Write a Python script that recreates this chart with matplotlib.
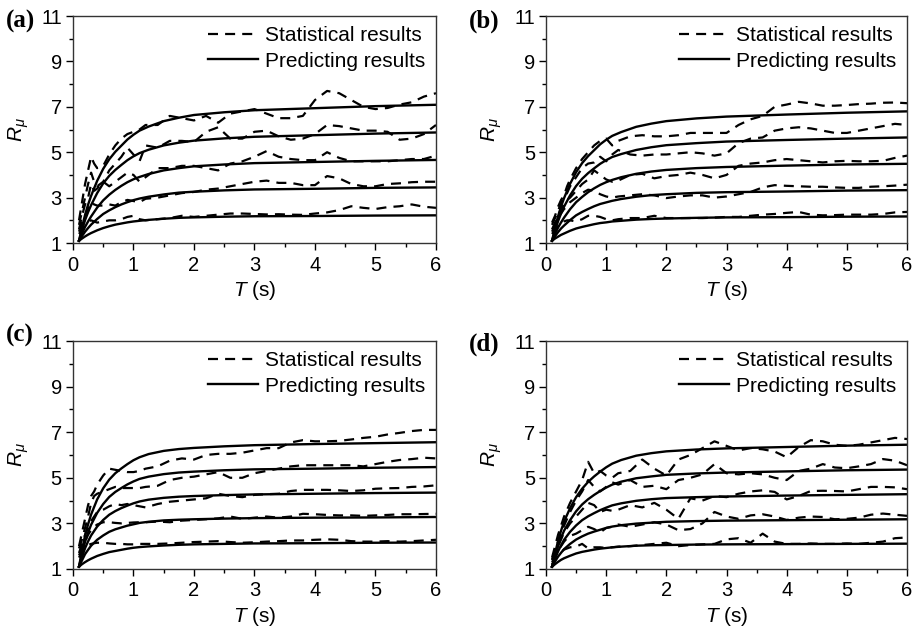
import matplotlib
matplotlib.use('Agg')
import matplotlib.pyplot as plt
from matplotlib.ticker import FixedLocator, MultipleLocator

plt.rcParams['font.family'] = ['Liberation Sans', 'DejaVu Sans']
plt.rcParams['mathtext.fontset'] = 'custom'
plt.rcParams['mathtext.rm'] = 'Liberation Sans'
plt.rcParams['mathtext.it'] = 'Liberation Sans:italic'

# period grids (s)
t_pred = [0.1, 0.15, 0.2, 0.25, 0.3, 0.4, 0.5, 0.6, 0.7, 0.8, 0.9, 1.0, 1.1, 1.25,
          1.5, 1.75, 2.0, 2.5, 3.0, 4.0, 5.0, 6.0]
t_stat = [0.1, 0.15, 0.2, 0.25, 0.3, 0.35, 0.4, 0.5, 0.6, 0.7, 0.8, 0.9, 1.0, 1.1, 1.2,
          1.4, 1.6, 1.8, 2.0, 2.2, 2.4, 2.6, 2.8, 3.0, 3.2, 3.4, 3.6, 3.8, 4.0, 4.2,
          4.4, 4.6, 4.8, 5.0, 5.2, 5.4, 5.6, 5.8, 6.0]

# (a) predicting results
pred_a = [
    [1.10, 1.70, 2.24, 2.69, 3.08, 3.74, 4.27, 4.69, 5.02, 5.29, 5.56, 5.77, 5.95, 6.13, 6.37, 6.52, 6.64, 6.76, 6.85, 6.94, 7.03, 7.09],
    [1.10, 1.58, 2.01, 2.36, 2.67, 3.20, 3.63, 3.96, 4.22, 4.44, 4.65, 4.82, 4.96, 5.11, 5.30, 5.42, 5.51, 5.61, 5.68, 5.75, 5.82, 5.87],
    [1.10, 1.42, 1.71, 1.95, 2.17, 2.56, 2.88, 3.13, 3.34, 3.52, 3.68, 3.81, 3.91, 4.04, 4.20, 4.30, 4.38, 4.46, 4.52, 4.57, 4.62, 4.66],
    [1.10, 1.31, 1.50, 1.66, 1.81, 2.06, 2.28, 2.44, 2.58, 2.70, 2.80, 2.89, 2.96, 3.04, 3.14, 3.22, 3.26, 3.32, 3.36, 3.39, 3.43, 3.45],
    [1.10, 1.20, 1.29, 1.37, 1.44, 1.56, 1.66, 1.74, 1.81, 1.86, 1.91, 1.95, 1.98, 2.02, 2.07, 2.11, 2.13, 2.16, 2.18, 2.19, 2.21, 2.22],
]
# (a) statistical results
stat_a = [
    [2.0, 2.8, 3.6, 4.2, 4.8, 4.5, 4.3, 4.4, 4.9, 5.3, 5.6, 5.8, 5.9, 6.0, 6.2,
     6.2, 6.6, 6.5, 6.4, 6.6, 6.3, 6.7, 6.8, 6.9, 6.7, 6.5, 6.5, 6.6, 7.3, 7.7, 7.6, 7.3, 7.0, 6.9, 6.95, 7.1, 7.2, 7.45, 7.6],
    [1.8, 2.4, 3.0, 3.6, 4.1, 3.7, 3.5, 3.7, 4.2, 4.5, 4.8, 5.2, 4.9, 4.6, 5.3,
     5.2, 5.5, 5.5, 5.45, 5.9, 6.1, 5.6, 5.6, 5.9, 5.95, 5.7, 5.55, 5.6, 5.8, 6.2, 6.15, 6.05, 5.95, 5.95, 5.9, 5.55, 5.6, 5.8, 6.2],
    [1.6, 2.2, 2.7, 3.0, 3.6, 3.3, 3.4, 3.7, 3.5, 3.7, 3.9, 4.1, 4.0, 3.7, 3.9,
     4.3, 4.3, 4.4, 4.4, 4.3, 4.2, 4.5, 4.6, 4.8, 5.05, 4.8, 4.7, 4.65, 4.65, 5.0, 4.75, 4.6, 4.6, 4.6, 4.6, 4.65, 4.7, 4.7, 4.85],
    [1.5, 1.9, 2.2, 2.5, 2.8, 2.7, 2.65, 2.65, 2.7, 2.65, 2.8, 2.9, 2.85, 2.8, 2.95,
     3.0, 3.1, 3.2, 3.25, 3.35, 3.4, 3.5, 3.6, 3.7, 3.75, 3.65, 3.65, 3.55, 3.55, 3.95, 3.85, 3.6, 3.5, 3.5, 3.6, 3.63, 3.68, 3.7, 3.7],
    [1.4, 1.6, 1.8, 1.95, 2.0, 1.95, 1.9, 1.95, 2.0, 2.0, 2.05, 2.15, 2.2, 2.05, 2.0,
     2.05, 2.1, 2.2, 2.15, 2.2, 2.25, 2.3, 2.3, 2.28, 2.26, 2.27, 2.25, 2.24, 2.3, 2.35, 2.45, 2.62, 2.55, 2.5, 2.58, 2.62, 2.7, 2.6, 2.55],
]

# (b)
pred_b = [
    [1.10, 1.67, 2.18, 2.61, 2.98, 3.61, 4.12, 4.52, 4.83, 5.09, 5.35, 5.55, 5.72, 5.89, 6.12, 6.26, 6.37, 6.49, 6.57, 6.66, 6.74, 6.80],
    [1.10, 1.56, 1.96, 2.31, 2.60, 3.10, 3.51, 3.83, 4.08, 4.29, 4.49, 4.65, 4.79, 4.92, 5.10, 5.22, 5.31, 5.40, 5.47, 5.54, 5.60, 5.65],
    [1.10, 1.41, 1.68, 1.91, 2.12, 2.49, 2.80, 3.03, 3.24, 3.41, 3.56, 3.68, 3.78, 3.90, 4.05, 4.15, 4.22, 4.30, 4.35, 4.41, 4.46, 4.49],
    [1.10, 1.30, 1.48, 1.64, 1.77, 2.01, 2.22, 2.37, 2.50, 2.62, 2.72, 2.79, 2.86, 2.94, 3.04, 3.11, 3.15, 3.21, 3.24, 3.27, 3.31, 3.33],
    [1.10, 1.20, 1.28, 1.36, 1.42, 1.54, 1.64, 1.71, 1.77, 1.83, 1.88, 1.91, 1.95, 1.98, 2.03, 2.06, 2.08, 2.11, 2.13, 2.14, 2.16, 2.17],
]
stat_b = [
    [1.9, 2.2, 2.6, 2.9, 3.1, 3.5, 3.8, 4.3, 4.7, 5.0, 5.3, 5.5, 5.6, 5.3, 5.5,
     5.7, 5.75, 5.7, 5.7, 5.75, 5.85, 5.85, 5.85, 5.85, 6.2, 6.45, 6.6, 7.0, 7.1, 7.22, 7.15, 7.05, 7.05, 7.08, 7.12, 7.14, 7.18, 7.19, 7.16],
    [1.8, 2.1, 2.4, 2.8, 3.0, 3.2, 3.5, 3.9, 4.3, 4.5, 4.55, 4.8, 4.6, 4.9, 5.1,
     4.9, 4.85, 4.9, 4.9, 4.95, 5.0, 4.95, 4.85, 4.95, 5.4, 5.6, 5.65, 5.95, 6.05, 6.1, 6.05, 5.95, 5.85, 5.85, 5.95, 6.05, 6.15, 6.25, 6.2],
    [1.6, 1.9, 2.2, 2.5, 2.7, 2.9, 3.0, 3.3, 3.6, 3.8, 4.2, 4.0, 3.8, 3.7, 3.75,
     4.0, 4.05, 3.85, 3.95, 4.0, 4.1, 4.0, 3.85, 4.0, 4.4, 4.5, 4.55, 4.65, 4.7, 4.65, 4.6, 4.55, 4.6, 4.62, 4.6, 4.6, 4.62, 4.75, 4.85],
    [1.5, 1.8, 2.1, 2.3, 2.5, 2.6, 2.8, 3.0, 3.2, 3.35, 3.3, 3.15, 3.05, 3.0, 3.05,
     3.1, 3.15, 3.1, 2.98, 3.05, 3.1, 3.1, 3.0, 3.05, 3.15, 3.25, 3.45, 3.55, 3.52, 3.5, 3.48, 3.48, 3.45, 3.43, 3.43, 3.48, 3.5, 3.53, 3.57],
    [1.4, 1.6, 1.75, 1.85, 1.95, 2.0, 2.0, 1.95, 2.05, 2.2, 2.2, 2.15, 2.05, 2.0, 2.05,
     2.1, 2.1, 2.2, 2.1, 2.1, 2.1, 2.1, 2.12, 2.15, 2.15, 2.2, 2.25, 2.28, 2.33, 2.37, 2.25, 2.22, 2.23, 2.25, 2.25, 2.25, 2.28, 2.35, 2.37],
]

# (c)
pred_c = [
    [1.10, 1.81, 2.47, 2.96, 3.39, 4.05, 4.54, 4.92, 5.20, 5.41, 5.60, 5.77, 5.90, 6.04, 6.18, 6.26, 6.31, 6.38, 6.43, 6.48, 6.52, 6.56],
    [1.10, 1.67, 2.19, 2.59, 2.94, 3.46, 3.85, 4.16, 4.38, 4.55, 4.71, 4.84, 4.95, 5.05, 5.16, 5.23, 5.27, 5.33, 5.37, 5.40, 5.44, 5.47],
    [1.10, 1.52, 1.91, 2.21, 2.47, 2.86, 3.15, 3.38, 3.54, 3.67, 3.78, 3.88, 3.96, 4.04, 4.12, 4.17, 4.20, 4.24, 4.27, 4.30, 4.33, 4.35],
    [1.10, 1.38, 1.65, 1.84, 2.02, 2.28, 2.47, 2.63, 2.74, 2.82, 2.90, 2.96, 3.02, 3.07, 3.13, 3.16, 3.18, 3.21, 3.23, 3.25, 3.26, 3.28],
    [1.10, 1.21, 1.30, 1.38, 1.45, 1.57, 1.66, 1.74, 1.79, 1.84, 1.89, 1.93, 1.96, 1.99, 2.03, 2.06, 2.08, 2.10, 2.12, 2.13, 2.15, 2.16],
]
stat_c = [
    [2.0, 2.6, 3.2, 3.8, 4.2, 4.4, 4.7, 5.1, 5.4, 5.35, 5.3, 5.25, 5.25, 5.3, 5.4,
     5.5, 5.75, 5.85, 5.8, 6.0, 6.05, 6.05, 6.1, 6.2, 6.3, 6.3, 6.55, 6.65, 6.6, 6.6, 6.62, 6.68, 6.75, 6.8, 6.9, 6.97, 7.05, 7.1, 7.1],
    [1.9, 2.3, 2.8, 3.3, 3.9, 4.2, 4.3, 4.4, 4.5, 4.6, 4.55, 4.55, 4.55, 4.55, 4.6,
     4.65, 4.9, 5.0, 5.05, 5.15, 5.25, 5.0, 5.0, 5.2, 5.3, 5.4, 5.5, 5.55, 5.55, 5.55, 5.55, 5.55, 5.5, 5.6, 5.7, 5.78, 5.82, 5.88, 5.85],
    [1.7, 2.1, 2.5, 2.8, 3.1, 3.3, 3.5, 3.6, 3.75, 3.85, 3.8, 3.85, 3.8, 3.75, 3.7,
     3.85, 3.95, 4.0, 4.05, 4.1, 4.3, 4.2, 4.15, 4.25, 4.28, 4.3, 4.42, 4.47, 4.47, 4.47, 4.45, 4.42, 4.45, 4.52, 4.54, 4.55, 4.6, 4.62, 4.67],
    [1.6, 1.9, 2.2, 2.5, 2.7, 2.85, 2.95, 3.05, 3.05, 3.02, 3.0, 3.02, 3.04, 3.05, 3.05,
     3.08, 3.05, 3.12, 3.15, 3.18, 3.22, 3.3, 3.2, 3.25, 3.3, 3.25, 3.3, 3.42, 3.4, 3.37, 3.35, 3.35, 3.33, 3.35, 3.37, 3.4, 3.4, 3.41, 3.42],
    [1.5, 1.8, 1.95, 2.05, 2.1, 2.13, 2.15, 2.15, 2.12, 2.1, 2.1, 2.08, 2.08, 2.1, 2.1,
     2.1, 2.12, 2.15, 2.18, 2.2, 2.22, 2.18, 2.15, 2.17, 2.2, 2.22, 2.25, 2.25, 2.28, 2.3, 2.28, 2.22, 2.2, 2.2, 2.22, 2.2, 2.22, 2.25, 2.28],
]

# (d)
pred_d = [
    [1.10, 1.69, 2.22, 2.68, 3.08, 3.67, 4.15, 4.52, 4.82, 5.06, 5.27, 5.46, 5.62, 5.78, 5.97, 6.08, 6.16, 6.24, 6.29, 6.35, 6.41, 6.45],
    [1.10, 1.57, 1.99, 2.36, 2.68, 3.14, 3.53, 3.83, 4.06, 4.25, 4.42, 4.57, 4.70, 4.83, 4.98, 5.06, 5.13, 5.19, 5.23, 5.28, 5.33, 5.36],
    [1.10, 1.45, 1.77, 2.04, 2.28, 2.63, 2.91, 3.14, 3.31, 3.45, 3.58, 3.69, 3.79, 3.88, 3.99, 4.06, 4.11, 4.15, 4.18, 4.22, 4.25, 4.28],
    [1.10, 1.33, 1.54, 1.71, 1.87, 2.10, 2.29, 2.43, 2.55, 2.64, 2.72, 2.80, 2.86, 2.92, 2.99, 3.03, 3.07, 3.10, 3.12, 3.14, 3.16, 3.18],
    [1.10, 1.21, 1.31, 1.40, 1.47, 1.58, 1.68, 1.75, 1.80, 1.85, 1.89, 1.92, 1.95, 1.98, 2.02, 2.04, 2.05, 2.07, 2.08, 2.09, 2.10, 2.11],
]
stat_d = [
    [1.5, 2.0, 2.5, 2.9, 3.3, 3.6, 3.9, 4.4, 4.9, 5.7, 5.2, 5.3, 5.1, 5.0, 5.2,
     5.3, 5.8, 5.4, 5.1, 5.8, 6.0, 6.3, 6.6, 6.4, 6.2, 6.3, 6.25, 6.15, 5.9, 6.35, 6.65, 6.6, 6.45, 6.4, 6.45, 6.55, 6.65, 6.75, 6.7],
    [1.4, 1.8, 2.2, 2.6, 2.9, 3.2, 3.5, 4.0, 4.4, 4.9, 4.6, 4.4, 4.6, 4.8, 4.7,
     4.9, 4.6, 4.65, 4.5, 4.9, 5.0, 5.15, 5.6, 5.2, 5.15, 5.2, 5.15, 5.0, 4.9, 5.3, 5.4, 5.6, 5.45, 5.42, 5.5, 5.6, 5.82, 5.75, 5.55],
    [1.4, 1.7, 2.0, 2.3, 2.6, 2.8, 3.0, 3.3, 3.6, 3.9, 3.8, 3.5, 3.6, 3.55, 3.6,
     3.8, 3.7, 3.9, 3.6, 3.2, 4.1, 4.0, 4.2, 4.15, 4.3, 4.4, 4.45, 4.38, 4.05, 4.2, 4.42, 4.43, 4.42, 4.4, 4.5, 4.6, 4.6, 4.58, 4.5],
    [1.3, 1.55, 1.8, 2.0, 2.2, 2.35, 2.45, 2.55, 2.7, 2.85, 2.75, 2.6, 2.8, 2.85, 2.95,
     2.85, 2.95, 3.05, 2.95, 2.7, 2.75, 3.0, 3.5, 3.3, 3.2, 3.35, 3.4, 3.3, 3.15, 3.25, 3.3, 3.28, 3.18, 3.2, 3.25, 3.38, 3.43, 3.38, 3.33],
    [1.2, 1.4, 1.6, 1.75, 1.85, 1.9, 1.95, 1.98, 2.1, 1.9, 1.95, 1.95, 1.92, 1.95, 1.98,
     2.0, 2.05, 2.1, 2.15, 2.0, 2.05, 2.08, 2.1, 2.3, 2.35, 2.15, 2.55, 2.2, 2.1, 2.1, 2.12, 2.1, 2.1, 2.12, 2.1, 2.15, 2.2, 2.35, 2.38],
]

y_major = [1, 3, 5, 7, 9, 11]
y_minor = [2, 4, 6, 8, 10]

panels = [('(a)', pred_a, stat_a), ('(b)', pred_b, stat_b),
          ('(c)', pred_c, stat_c), ('(d)', pred_d, stat_d)]
# axes rectangles in figure fractions
rects = [(0.0793, 0.613, 0.3946, 0.3615), (0.5935, 0.613, 0.3924, 0.3615),
         (0.0793, 0.094, 0.3946, 0.363), (0.5935, 0.094, 0.3924, 0.363)]
tag_pos = [(-0.185, 0.975), (-0.215, 0.975), (-0.185, 1.025), (-0.215, 0.985)]

fig = plt.figure(figsize=(9.2, 6.28), dpi=100)

for (tag, pred, stat), rect, tp in zip(panels, rects, tag_pos):
    ax = fig.add_axes(rect)
    for i, s in enumerate(stat):
        ax.plot(t_stat, s, color='black', lw=1.6, linestyle=(0, (4.5, 3.2)),
                label='Statistical results' if i == 0 else None)
    for i, p in enumerate(pred):
        ax.plot(t_pred, p, color='black', lw=1.7,
                label='Predicting results' if i == 0 else None)
    ax.set_xlim(0, 6)
    ax.set_ylim(1, 11)
    ax.xaxis.set_major_locator(MultipleLocator(1))
    ax.xaxis.set_minor_locator(MultipleLocator(0.5))
    ax.yaxis.set_major_locator(FixedLocator(y_major))
    ax.yaxis.set_minor_locator(FixedLocator(y_minor))
    ax.tick_params(which='major', direction='out', length=5, width=1, labelsize=14.5, pad=3)
    ax.tick_params(which='major', axis='x', pad=4)
    ax.tick_params(which='minor', direction='out', length=3, width=1)
    for sp in ax.spines.values():
        sp.set_linewidth(1)
        sp.set_color('#333333')
    ax.set_xlabel(r'$T$ (s)', fontsize=15, labelpad=3)
    ax.set_ylabel(r'$R_{\mu}$', fontsize=15, labelpad=7)
    ax.legend(loc='upper right', frameon=False, fontsize=15, handlelength=2.4,
              handletextpad=0.35, labelspacing=0.3, borderaxespad=0.1)
    ax.text(tp[0], tp[1], tag, transform=ax.transAxes, fontsize=18, fontweight='bold',
            family='Liberation Serif', ha='left', va='center')

fig.savefig('out.png', dpi=100)
